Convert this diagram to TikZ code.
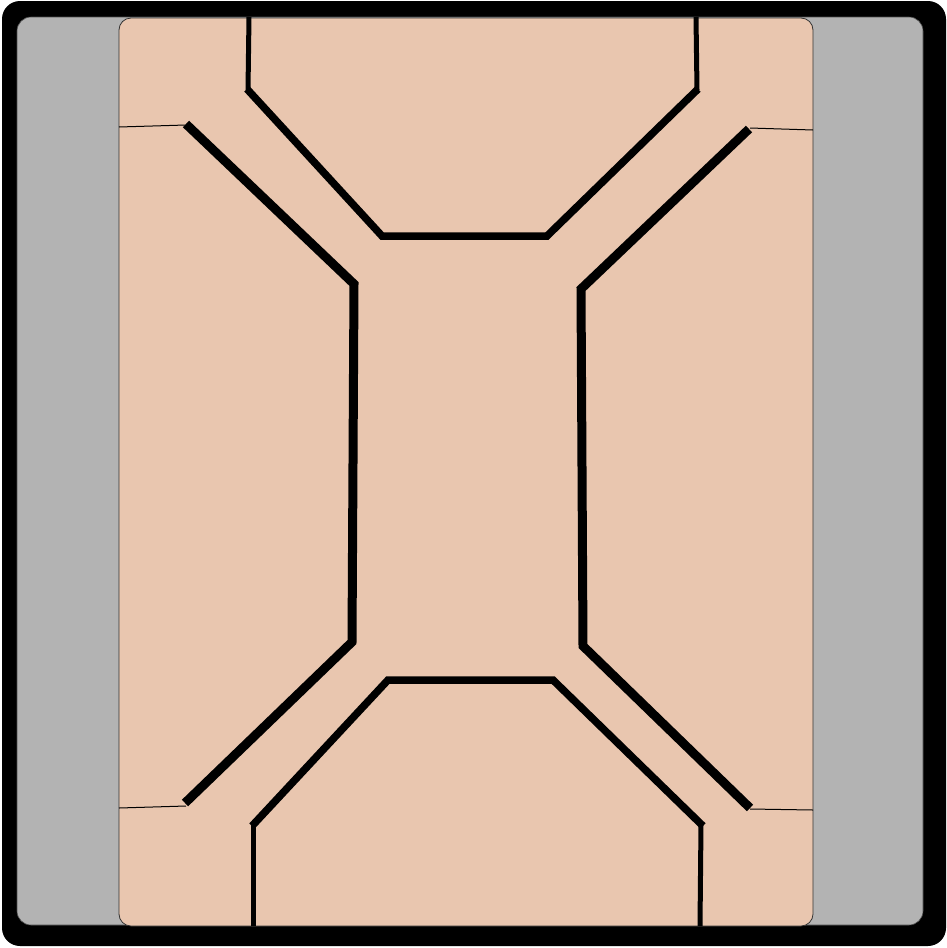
\documentclass[tikz,border=0pt]{standalone}
\usepackage{xcolor}
\usepackage{tikz}

\definecolor{peach}{HTML}{E9C6AF}
\definecolor{frameGray}{HTML}{B3B3B3}

\begin{document}
\begin{tikzpicture}[
    x=1pt, y=-1pt,
    line join=miter,
    frame/.style={fill=black, rounded corners=18pt},
    bed/.style={fill=frameGray, draw=black!70, line width=0.6pt, rounded corners=14pt},
    board/.style={fill=peach, draw=black!80, line width=0.8pt, rounded corners=12pt},
    seam/.style={draw=black, line width=1pt},
    wall/.style={draw=black, line width=9pt},
    rail/.style={draw=black, line width=7.5pt},
    post/.style={draw=black, line width=5pt}
]
\useasboundingbox (0,0) rectangle (947,948);

% Frame
\path[frame] (2,1) rectangle (946,946);
\path[bed] (17,17) rectangle (923,925);
\path[board] (119,18) rectangle (813,926);

% Seams
\draw[seam] (119,127) -- (186,125);
\draw[seam] (750,128) -- (813,130);
\draw[seam] (119,808) -- (186,806);
\draw[seam] (750,809) -- (813,810);

% Side walls
\draw[wall] (186,124) -- (354,284) -- (352,642) -- (185,803);
\draw[wall] (749,129) -- (581,289) -- (583,646) -- (750,808);

% Top channel
\draw[post] (249,17) -- (248,90);
\draw[post] (696,17) -- (697,90);
\draw[rail] (247,89) -- (382,236) -- (547,236) -- (698,89);

% Bottom channel
\draw[post] (253,926) -- (253,824);
\draw[post] (700,926) -- (701,824);
\draw[rail] (252,826) -- (388,680) -- (553,680) -- (703,826);

\end{tikzpicture}
\end{document}
